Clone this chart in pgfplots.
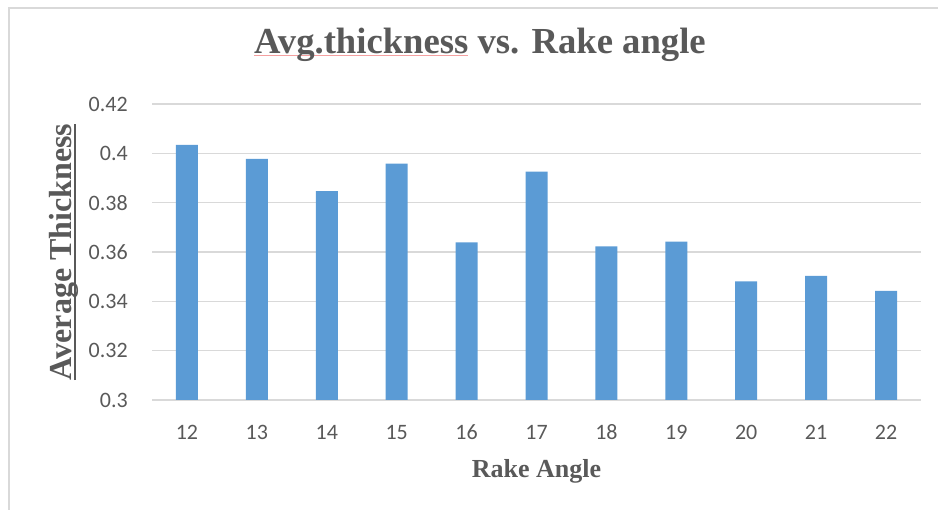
\documentclass[border=0pt]{standalone}
\usepackage{pgfplots}
\pgfplotsset{compat=1.18}
\usepackage{fontspec}
\setmainfont{Liberation Serif}
\newfontfamily\carlito{Carlito}
\definecolor{barblue}{HTML}{5B9BD5}
\definecolor{gridgray}{HTML}{D9D9D9}
\definecolor{txtgray}{HTML}{595959}
\definecolor{spellred}{HTML}{F4A0A0}
\newcommand{\ulgray}[1]{\setbox0\hbox{#1}\rlap{\textcolor{txtgray}{\rule[-3.25pt]{\wd0}{1.5pt}}}\box0\relax}
\newcommand{\ulspell}[1]{\setbox0\hbox{#1}\rlap{\textcolor{spellred}{\rule[-2pt]{\wd0}{0.75pt}}}\box0\relax}
\begin{document}
\begin{tikzpicture}
\useasboundingbox (0,0) rectangle (703.5pt,382.5pt);
% chart frame (partly visible)
\draw[gridgray, line width=1pt] (6.75pt,0) -- (6.75pt,376.5pt) -- (703.5pt,376.5pt);
\begin{axis}[
  at={(114pt,82.5pt)}, anchor=south west,
  scale only axis, width=576.75pt, height=222pt,
  ybar, bar width=16.5pt,
  xmin=11.5, xmax=22.5, ymin=0.3, ymax=0.42,
  enlargelimits=false,
  xtick=data,
  ytick={0.3,0.32,0.34,0.36,0.38,0.4,0.42},
  axis line style={draw=none},
  major tick length=0pt,
  ymajorgrids, grid style={draw=gridgray, line width=1pt},
  /pgf/number format/.cd, fixed, precision=2, assume math mode=true,
  /pgfplots/.cd,
  tick label style={font=\carlito\fontsize{16.5}{18}\selectfont, text=txtgray},
  xticklabel style={anchor=center, yshift=-24pt},
  yticklabel style={anchor=east, inner sep=0pt, xshift=-18pt},
  title={\ulspell{Avg.thickness} vs. Rake angle},
  title style={at={(0.4265,1.145)}, anchor=base, font=\bfseries\fontsize{27.5}{32}\selectfont, text=txtgray, inner sep=0pt},
  xlabel={Rake Angle},
  xlabel style={at={(0.5,-0.2635)}, anchor=base, font=\bfseries\fontsize{19.5}{22}\selectfont, text=txtgray, inner sep=0pt},
  ylabel={\ulgray{Average Thickness}},
  ylabel style={at={(-0.1044,0.5)}, anchor=base, rotate=0, font=\bfseries\fontsize{24}{28}\selectfont, text=txtgray, inner sep=0pt},
]
\addplot[fill=barblue, draw=none] coordinates {
  (12,0.4034) (13,0.3978) (14,0.3847) (15,0.3958) (16,0.3639)
  (17,0.3926) (18,0.3623) (19,0.3642) (20,0.3481) (21,0.3503) (22,0.3442)
};
\end{axis}
\end{tikzpicture}
\end{document}
